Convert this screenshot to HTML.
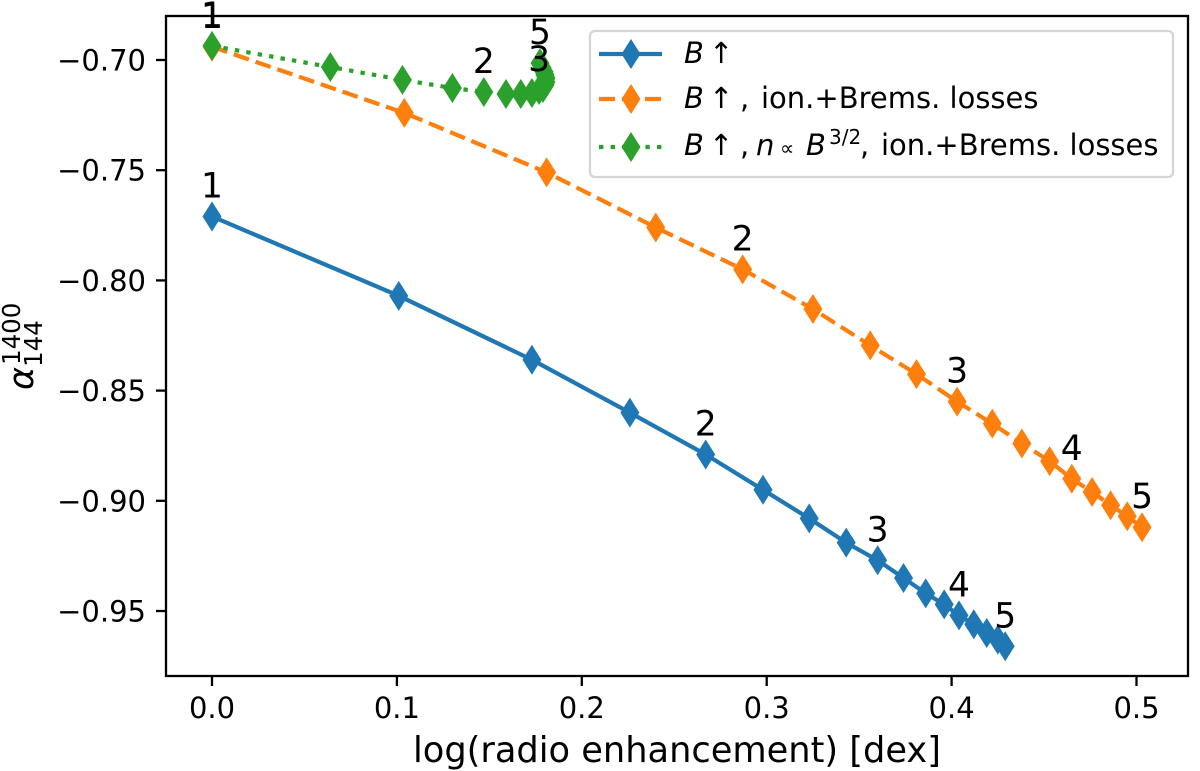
<!DOCTYPE html>
<html>
<head>
<meta charset="utf-8">
<title>Spectral index vs radio enhancement</title>
<style>
html,body{margin:0;padding:0;background:#fff;}
svg{display:block;font-family:"DejaVu Sans","Liberation Sans",sans-serif;}
</style>
</head>
<body>
<svg id="chart" xmlns="http://www.w3.org/2000/svg" width="1200" height="771" viewBox="0 0 1200 771">
  <rect x="0" y="0" width="1200" height="771" fill="#fff"/>
  <g id="axes-layer"></g>
  <g id="series-layer"></g>
  <rect x="166" y="16" width="1022" height="660" fill="none" stroke="#000" stroke-width="2.3"/>
  <g id="annotation-layer"></g>

  <text x="677" y="762" font-size="35.2" text-anchor="middle" fill="#000">log(radio enhancement) [dex]</text>
  <g transform="translate(33,390) rotate(-90)" fill="#000">
    <text x="0" y="0" font-size="35" font-style="italic">α</text>
    <text x="25" y="-13" font-size="24.5">1400</text>
    <text x="23" y="9" font-size="24.5">144</text>
  </g>

  <g>
    <rect x="590" y="31" width="583" height="146" rx="5" ry="5" fill="#fff" fill-opacity="0.8" stroke="#d5d5d5" stroke-width="2.3"/>
    <g>
      <line x1="599" y1="54" x2="662" y2="54" stroke="#1f77b4" stroke-width="4.2"/>
      <polygon points="631,39 640.5,54 631,69 621.5,54" fill="#1f77b4"/>
      <text y="63" font-size="29" fill="#000"><tspan x="684" font-style="italic">B</tspan><tspan x="709">↑</tspan></text>
    </g>
    <g>
      <line x1="599" y1="99" x2="662" y2="99" stroke="#ff7f0e" stroke-width="4.2" stroke-dasharray="16 7"/>
      <polygon points="631,84 640.5,99 631,114 621.5,99" fill="#ff7f0e"/>
      <text y="108" font-size="29" fill="#000"><tspan x="684" font-style="italic">B</tspan><tspan x="709">↑</tspan><tspan x="740">,</tspan><tspan x="761">ion.+Brems. losses</tspan></text>
    </g>
    <g>
      <line x1="599" y1="147" x2="662" y2="147" stroke="#2ca02c" stroke-width="4.2" stroke-dasharray="4.4 7.2"/>
      <polygon points="631,132 640.5,147 631,162 621.5,147" fill="#2ca02c"/>
      <text y="155" font-size="29" fill="#000"><tspan x="684" font-style="italic">B</tspan><tspan x="709">↑</tspan><tspan x="740">,</tspan><tspan x="756" font-style="italic">n</tspan><tspan x="780" font-size="20">∝</tspan><tspan x="806" font-style="italic">B</tspan><tspan x="829" y="144" font-size="20">3/2</tspan><tspan x="860" y="155">,</tspan><tspan x="881">ion.+Brems. losses</tspan></text>
    </g>
  </g>
</svg>
<script>
const xTickValues = [0.0, 0.1, 0.2, 0.3, 0.4, 0.5];
const xTickLabels = ["0.0", "0.1", "0.2", "0.3", "0.4", "0.5"];
const yTickValues = [-0.70, -0.75, -0.80, -0.85, -0.90, -0.95];
const yTickLabels = ["−0.70", "−0.75", "−0.80", "−0.85", "−0.90", "−0.95"];

const blueX = [0, 0.101, 0.173, 0.226, 0.267, 0.298, 0.323, 0.343, 0.360, 0.374, 0.386, 0.396, 0.404, 0.412, 0.419, 0.425, 0.429];
const blueY = [-0.771, -0.807, -0.836, -0.860, -0.879, -0.895, -0.908, -0.919, -0.927, -0.935, -0.942, -0.947, -0.952, -0.956, -0.960, -0.963, -0.966];
const orangeX = [0, 0.104, 0.181, 0.240, 0.287, 0.325, 0.356, 0.381, 0.403, 0.422, 0.438, 0.453, 0.465, 0.476, 0.486, 0.495, 0.503];
const orangeY = [-0.694, -0.724, -0.751, -0.776, -0.795, -0.813, -0.8295, -0.8425, -0.855, -0.865, -0.874, -0.882, -0.890, -0.896, -0.902, -0.907, -0.912];
const greenX = [0, 0.064, 0.103, 0.130, 0.147, 0.159, 0.167, 0.173, 0.1769, 0.179, 0.1801, 0.1806, 0.1806, 0.1801, 0.1796, 0.1785, 0.1774];
const greenY = [-0.6936, -0.7032, -0.709, -0.7127, -0.7145, -0.7154, -0.7154, -0.715, -0.7136, -0.7127, -0.7113, -0.710, -0.7082, -0.7068, -0.7054, -0.7036, -0.7014];

const annotationIndices = [0, 4, 8, 12, 16];
const annotationLabels = ["1", "2", "3", "4", "5"];
const greenAnnotationIndices = [0, 4, 8, 16];
const greenAnnotationLabels = ["1", "2", "3", "5"];

const NS = "http://www.w3.org/2000/svg";
function xScale(v) { return 212 + v * 1849; }
function yScale(v) { return 60 + (-0.70 - v) * 2204; }

const axesLayer = document.getElementById("axes-layer");
const seriesLayer = document.getElementById("series-layer");
const annotationLayer = document.getElementById("annotation-layer");

xTickValues.forEach(function (v, i) {
  const tick = document.createElementNS(NS, "line");
  
  
  tick.setAttribute("x1", xScale(v));
  tick.setAttribute("x2", xScale(v));
  tick.setAttribute("y1", 676);
  tick.setAttribute("y2", 686);
  tick.setAttribute("stroke", "#000");
  tick.setAttribute("stroke-width", 2.3);
  axesLayer.appendChild(tick);
  const label = document.createElementNS(NS, "text");
  
  
  label.setAttribute("x", xScale(v));
  label.setAttribute("y", 718);
  label.setAttribute("font-size", 29);
  label.setAttribute("text-anchor", "middle");
  label.textContent = xTickLabels[i];
  axesLayer.appendChild(label);
});

yTickValues.forEach(function (v, i) {
  const tick = document.createElementNS(NS, "line");
  
  
  tick.setAttribute("x1", 156);
  tick.setAttribute("x2", 166);
  tick.setAttribute("y1", yScale(v));
  tick.setAttribute("y2", yScale(v));
  tick.setAttribute("stroke", "#000");
  tick.setAttribute("stroke-width", 2.3);
  axesLayer.appendChild(tick);
  const label = document.createElementNS(NS, "text");
  
  
  label.setAttribute("x", 146);
  label.setAttribute("y", yScale(v) + 10.5);
  label.setAttribute("font-size", 29);
  label.setAttribute("text-anchor", "end");
  label.textContent = yTickLabels[i];
  axesLayer.appendChild(label);
});

function drawSeries(xs, ys, color, dash, name) {
  const group = document.createElementNS(NS, "g");
  
  
  const line = document.createElementNS(NS, "polyline");
  
  
  line.setAttribute("points", xs.map(function (x, i) { return xScale(x) + "," + yScale(ys[i]); }).join(" "));
  line.setAttribute("fill", "none");
  line.setAttribute("stroke", color);
  line.setAttribute("stroke-width", 4.2);
  line.setAttribute("stroke-linejoin", "round");
  if (dash) { line.setAttribute("stroke-dasharray", dash); }
  group.appendChild(line);
  xs.forEach(function (x, i) {
    const px = xScale(x);
    const py = yScale(ys[i]);
    const marker = document.createElementNS(NS, "polygon");
    
    
    marker.setAttribute("points", px + "," + (py - 15) + " " + (px + 9.5) + "," + py + " " + px + "," + (py + 15) + " " + (px - 9.5) + "," + py);
    marker.setAttribute("fill", color);
    group.appendChild(marker);
  });
  seriesLayer.appendChild(group);
}

function drawAnnotations(xs, ys, indices, labels, name) {
  indices.forEach(function (idx, i) {
    const t = document.createElementNS(NS, "text");
    
    
    t.setAttribute("x", xScale(xs[idx]));
    t.setAttribute("y", yScale(ys[idx]) - 19);
    t.setAttribute("font-size", 34.5);
    t.setAttribute("text-anchor", "middle");
    t.textContent = labels[i];
    annotationLayer.appendChild(t);
  });
}

drawSeries(blueX, blueY, "#1f77b4", "", "series-b");
drawSeries(orangeX, orangeY, "#ff7f0e", "16 7", "series-b-losses");
drawSeries(greenX, greenY, "#2ca02c", "4.4 7.2", "series-b-density-losses");
drawAnnotations(blueX, blueY, annotationIndices, annotationLabels, "annotation-blue");
drawAnnotations(orangeX, orangeY, annotationIndices, annotationLabels, "annotation-orange");
drawAnnotations(greenX, greenY, greenAnnotationIndices, greenAnnotationLabels, "annotation-green");
</script>
</body>
</html>
